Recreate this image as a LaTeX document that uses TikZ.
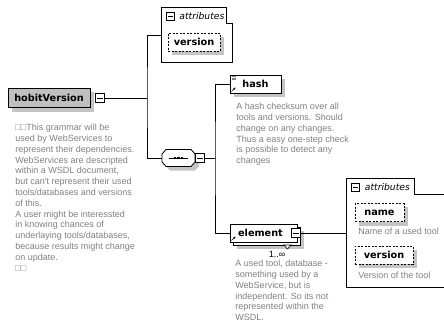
\documentclass[tikz,border=0pt]{standalone}
\usepackage{fontspec}
\setmainfont{Liberation Sans}
\newfontfamily\lblfont{DejaVu Sans}
\usetikzlibrary{arrows.meta, calc, backgrounds}

\definecolor{desc}{RGB}{128,128,128}
\definecolor{shadowgray}{RGB}{196,196,196}
\definecolor{hvgray}{RGB}{192,192,192}

\newcommand\dropshade[2][4]{\fill[shadowgray] ($(#2.north west)+(#1,#1)$) rectangle ($(#2.south east)+(#1,#1)$);}

\tikzset{
  elem/.style={draw, fill=white, font=\lblfont\bfseries\fontsize{9.7}{11}\selectfont, inner sep=0pt, minimum height=18pt},
  attr/.style={draw, dash pattern=on 2pt off 1.5pt, fill=white, font=\lblfont\bfseries\fontsize{9.7}{11}\selectfont, inner sep=0pt, minimum height=18pt},
  minusbox/.style={draw, fill=white, minimum size=9pt, inner sep=0pt, line width=0.7pt,
    path picture={\draw[line width=0.7pt] ([xshift=1.5pt]path picture bounding box.west) -- ([xshift=-1.5pt]path picture bounding box.east);}},
  refmark/.style={path picture={\draw[line width=0.6pt, -{Stealth[length=2.5pt, width=2.5pt]}] ([shift={(1.5pt,1.5pt)}]path picture bounding box.south west) -- ++(4pt,4pt);}},
  hdr/.style={anchor=west, inner sep=0pt, font=\lblfont\itshape\fontsize{9.2}{11}\selectfont},
  note/.style={anchor=north west, inner sep=0pt, align=left, text=desc, font=\fontsize{9}{10.8}\selectfont}
}

\begin{document}
\begin{tikzpicture}[x=1pt, y=-1pt, line width=0.8pt]
\useasboundingbox (0,0) rectangle (444,325);

\node[elem, fill=hvgray, minimum width=82pt, minimum height=19pt] (hv) at (49,98) {hobitVersion};
\node[minusbox] (hvminus) at (99.5,98) {};
\node[note] (hvnote) at (15,123.7) {\char"25A1\char"25A1This grammar will be\\
used by WebServices to\\
represent their dependencies.\\
WebServices are descripted\\
within a WSDL document,\\
but can\textquotesingle t represent their used\\
tools/databases and versions\\
of this.\\
A user might be interessted\\
in knowing chances of\\
underlaying tools/databases,\\
because results might change\\
on update.\\
\char"25A1\char"25A1};
\coordinate (fork1) at (147,98);

\node[minimum width=70pt, minimum height=54pt, inner sep=0pt] (attrA) at (197,35) {};
\draw (attrA.north west) -- ++(65,0) -- ++(0,16) -| (attrA.south east) -- (attrA.south west) -- cycle;
\node[minusbox, minimum size=8pt] (attrAminus) at (170,16) {};
\node[hdr] (attrAlbl) at (179,16) {attributes};
\node[attr, minimum width=52pt] (verA) at (194,42) {version};

\node[minimum width=33pt, minimum height=17pt, inner sep=0pt] (seq) at (178.5,158) {};
\draw[fill=white] (seq.center) ++(-16.5,-4) -- ++(4,-4.5) -- ++(25,0) -- ++(4,4.5) -- ++(0,8) -- ++(-4,4.5) -- ++(-25,0) -- ++(-4,-4.5) -- cycle;
\draw ($(seq.center)+(-9.5,0)$) -- ($(seq.center)+(9.5,0)$);
\foreach \dx in {-3.5,0,3.5}
  \fill ($(seq.center)+(\dx-1.2,-1.2)$) rectangle ($(seq.center)+(\dx+1.2,1.2)$);
\node[minusbox] (seqminus) at (200,158) {};
\coordinate (fork2) at (215,158);

\node[elem, minimum width=51pt,
  path picture={\foreach \dy in {1.5,3,4.5} \draw[line width=0.5pt, desc] ([shift={(1.5pt,-\dy pt)}]path picture bounding box.north west) -- ++(4pt,0pt);
    \draw[line width=0.6pt, -{Stealth[length=2.5pt, width=2.5pt]}] ([shift={(1.5pt,1.5pt)}]path picture bounding box.south west) -- ++(4pt,4pt);}] (hash) at (255.5,84) {hash\hspace{12pt}};
\node[note] (hashnote) at (236,102.7) {A hash checksum over all\\
tools and versions. Should\\
change on any changes.\\
Thus a easy one-step check\\
is possible to detect any\\
changes};

\node[draw, fill=white, minimum width=67pt, minimum height=18pt, inner sep=0pt] (elemback) at (266.5,236) {};
\node[elem, minimum width=67pt, refmark] (elem) at (263.5,233) {\hspace{-6pt}element};
\node[minusbox] (elemminus) at (295.5,233) {};
\draw[fill=white, line width=0.6pt] (284,245) -- (291,245) -- (287.5,249) -- cycle;
\node[font=\fontsize{9}{11}\selectfont, inner sep=0pt] (mult) at (277,254.5) {1..∞};
\node[note] (elemnote) at (235,259.7) {A used tool, database -\\
something used by a\\
WebService, but is\\
independent. So its not\\
represented within the\\
WSDL.};

\node[minimum width=110pt, minimum height=108pt, inner sep=0pt] (attrB) at (402,233) {};
\draw (attrB.north west) -- ++(68,0) -- ++(0,16) -| (attrB.south east) -- (attrB.south west) -- cycle;
\node[minusbox, minimum size=8pt] (attrBminus) at (355.5,187) {};
\node[hdr] (attrBlbl) at (364.5,187) {attributes};
\node[attr, minimum width=49pt] (nameB) at (379.5,212.5) {name};
\node[note] (nameBnote) at (358,227.7) {Name of a used tool};
\node[attr, minimum width=58pt] (verB) at (384,255) {version};
\node[note] (verBnote) at (358,271.7) {Version of the tool};

\begin{scope}[on background layer]
  \dropshade{hv}
  \dropshade{verA}
  \fill[shadowgray] (seq.center) ++(-12.5,0) -- ++(4,-4.5) -- ++(25,0) -- ++(4,4.5) -- ++(0,8) -- ++(-4,4.5) -- ++(-25,0) -- ++(-4,-4.5) -- cycle;
  \dropshade{hash}
  \dropshade{elemback}
  \dropshade{nameB}
  \dropshade{verB}
\end{scope}

\draw (hvminus.east) -- (fork1);
\draw (attrA.west) -| (fork1) |- (seq.west);
\draw (seqminus.east) -- (fork2);
\draw (hash.west) -| (fork2) |- (elem.west);
\draw (elemminus.east) -- (attrB.west);
\end{tikzpicture}
\end{document}
